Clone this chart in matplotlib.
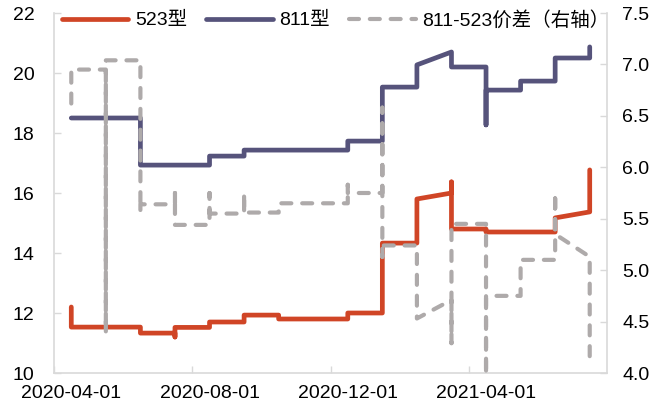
import matplotlib
matplotlib.use('Agg')
import matplotlib.pyplot as plt
from matplotlib.lines import Line2D
from matplotlib.ticker import FormatStrFormatter

plt.rcParams['font.family'] = ['Liberation Sans', 'Noto Sans CJK SC', 'DejaVu Sans']

# ---------------- data ----------------
months = ['2020-04', '2020-05', '2020-06', '2020-07', '2020-08', '2020-09',
          '2020-10', '2020-11', '2020-12', '2021-01', '2021-02', '2021-03',
          '2021-04', '2021-05', '2021-06', '2021-07']
tick_months = ['2020-04', '2020-08', '2020-12', '2021-04']
tick_labels = ['2020-04-01', '2020-08-01', '2020-12-01', '2021-04-01']

# observations within each month (plotted on the month's category position)
price_523 = [
    [12.2, 11.53], [11.53], [11.53, 11.33], [11.33, 11.2, 11.52],
    [11.52, 11.7], [11.7, 11.93], [11.93, 11.8], [11.8],
    [11.8, 12.0], [12.0, 14.33], [14.33, 15.8], [16.0, 16.37, 14.8],
    [14.8, 14.7], [14.7], [14.7, 15.17], [15.37, 16.77],
]
price_811 = [
    [18.5], [18.5], [18.5, 16.93], [16.93],
    [16.93, 17.23], [17.23, 17.43], [17.43], [17.43],
    [17.43, 17.73], [17.73, 19.53], [19.53, 20.27], [20.7, 20.2],
    [20.2, 18.27, 19.43], [19.43, 19.73], [19.73, 20.5], [20.5, 20.87],
]
spread = [
    [6.62, 6.95], [6.95, 4.39, 7.04], [7.04, 5.57, 5.64], [5.64, 5.75, 5.44],
    [5.44, 5.75, 5.55], [5.55, 5.75, 5.56], [5.56, 5.65], [5.65],
    [5.65, 5.83, 5.75], [5.75, 6.58, 5.13, 5.24], [5.24, 4.53], [4.71, 4.29, 5.45],
    [5.45, 3.98, 4.75], [4.75, 5.1], [5.1, 5.75, 5.35], [5.13, 4.15],
]
series_names = ['523型', '811型', '811-523价差（右轴）']


def flatten(groups):
    xs, ys = [], []
    for i, vals in enumerate(groups):
        for v in vals:
            xs.append(i)
            ys.append(v)
    return xs, ys


RED = '#D04526'
BLUE = '#56537B'
GRAY = '#AEAAAA'
SPINE = '#D9D9D9'

fig = plt.figure(figsize=(6.69, 4.08), dpi=100)
ax = fig.add_axes([54 / 669, 35 / 408, 553 / 669, 360 / 408])
ax2 = ax.twinx()

x1, y1 = flatten(price_523)
x2, y2 = flatten(price_811)
x3, y3 = flatten(spread)

ax.plot(x1, y1, color=RED, lw=3.4, solid_joinstyle='round', solid_capstyle='round', zorder=3)
ax.plot(x2, y2, color=BLUE, lw=3.4, solid_joinstyle='round', solid_capstyle='round', zorder=4)
ax2.plot(x3, y3, color=GRAY, lw=3.0, dashes=(2.4, 2.6), dash_capstyle='round',
         dash_joinstyle='round', zorder=5)

ax.set_xlim(-0.5, len(months) - 0.5)
ax.set_ylim(10, 22)
ax.set_yticks(range(10, 23, 2))
ax2.set_ylim(4.0, 7.5)
ax2.set_yticks([4.0, 4.5, 5.0, 5.5, 6.0, 6.5, 7.0, 7.5])
ax2.yaxis.set_major_formatter(FormatStrFormatter('%.1f'))

tick_pos = [months.index(m) for m in tick_months]
ax.set_xticks(tick_pos)
ax.set_xticklabels(tick_labels)
ax.set_xticks([p - 0.5 for p in tick_pos], minor=True)
ax.tick_params(axis='x', which='major', length=0, pad=9, labelsize=14, colors='black')
ax.tick_params(axis='x', which='minor', direction='in', length=5, width=1, color=SPINE)
ax.tick_params(axis='y', direction='in', length=5, width=1, color=SPINE,
               labelsize=14, labelcolor='black', pad=14)
ax2.tick_params(axis='y', direction='in', length=5, width=1, color=SPINE,
                labelsize=14, labelcolor='black', pad=11)

for a in (ax, ax2):
    for s in a.spines.values():
        s.set_color(SPINE)
        s.set_linewidth(1.2)
    a.spines['top'].set_visible(False)
ax.spines['right'].set_visible(False)
ax2.spines['left'].set_visible(False)
ax2.spines['bottom'].set_visible(False)

handles = [
    Line2D([], [], color=RED, lw=3.4, solid_capstyle='round'),
    Line2D([], [], color=BLUE, lw=3.4, solid_capstyle='round'),
    Line2D([], [], color=GRAY, lw=3.0, dashes=(2.4, 2.6), dash_capstyle='round'),
]
ax2.legend(handles, series_names, loc='center left', bbox_to_anchor=(62 / 669, 1 - 20 / 408),
           bbox_transform=fig.transFigure, ncol=3, frameon=False, fontsize=14,
           handlelength=3.4, handletextpad=0.35, columnspacing=1.0, borderpad=0,
           borderaxespad=0)

fig.savefig('out.png', dpi=100)
